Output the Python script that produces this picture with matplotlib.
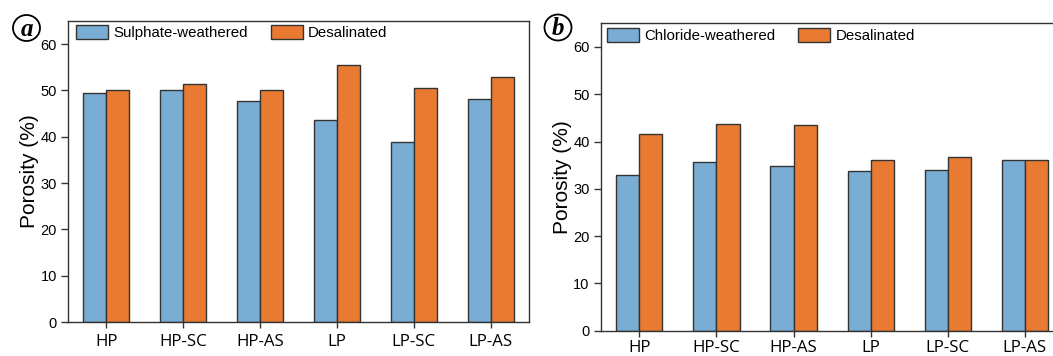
import matplotlib
matplotlib.use("Agg")
import matplotlib.pyplot as plt
from matplotlib.patches import Ellipse
import numpy as np

categories = ["HP", "HP-SC", "HP-AS", "LP", "LP-SC", "LP-AS"]

sulphate_weathered = [49.5, 50.0, 47.8, 43.6, 38.8, 48.2]
sulphate_desalinated = [50.2, 51.3, 50.2, 55.6, 50.5, 52.8]

chloride_weathered = [33.0, 35.7, 34.8, 33.8, 34.0, 36.0]
chloride_desalinated = [41.5, 43.8, 43.5, 36.1, 36.8, 36.2]

yticks = [0, 10, 20, 30, 40, 50, 60]

BLUE = "#7aadd3"
ORANGE = "#e87a31"
EDGE = "#333333"
W, H = 1053, 356

fig = plt.figure(figsize=(W / 100, H / 100), dpi=100)


def px_rect(left, right, top, bottom):
    return [left / W, (H - bottom) / H, (right - left) / W, (bottom - top) / H]


def draw_panel(ax, weathered, desalinated, wlabel, legend_anchor, xpad):
    x = np.arange(len(categories))
    bw = 0.3
    ax.bar(x - bw / 2, weathered, bw, color=BLUE, edgecolor=EDGE, linewidth=1,
           label=wlabel, zorder=2)
    ax.bar(x + bw / 2, desalinated, bw, color=ORANGE, edgecolor=EDGE, linewidth=1,
           label="Desalinated", zorder=2)
    ax.set_xlim(-0.5, 5.5)
    ax.set_ylim(0, 65)
    ax.set_yticks(yticks)
    ax.set_xticks(x)
    ax.set_xticklabels(categories, family="Open Sans", fontsize=12.2)
    for lab in ax.get_yticklabels():
        lab.set_family("Liberation Sans")
        lab.set_fontsize(10.5)
    ax.tick_params(axis="y", direction="out", length=5, width=1, color=EDGE, pad=3)
    ax.tick_params(axis="x", direction="out", length=4, width=1, color=EDGE, pad=xpad)
    for s in ax.spines.values():
        s.set_color(EDGE)
        s.set_linewidth(1)
    ax.set_ylabel("Porosity (%)", family="Liberation Sans", fontsize=15, labelpad=1)
    ax.legend(loc="upper left", bbox_to_anchor=legend_anchor, ncol=2, frameon=False,
              prop={"family": "Liberation Sans", "size": 10.8},
              handlelength=2.15, handleheight=1.05, handletextpad=0.35,
              columnspacing=1.5, borderpad=0, borderaxespad=0)


ax_a = fig.add_axes(px_rect(68, 529, 21, 322))
draw_panel(ax_a, sulphate_weathered, sulphate_desalinated, "Sulphate-weathered",
           (8 / 461, 1 - 4 / 301), 5)

ax_b = fig.add_axes(px_rect(600.7, 1063.5, 23.3, 330.7))
draw_panel(ax_b, chloride_weathered, chloride_desalinated, "Chloride-weathered",
           (6 / 462.8, 1 - 5 / 307.4), 3)

# circled panel letters
for letter, cx, cy in [("a", 26.5, 28), ("b", 558, 27.5)]:
    fig.patches.append(Ellipse((cx / W, 1 - cy / H), 27 / W, 26 / H,
                               transform=fig.transFigure, fill=False,
                               edgecolor="black", linewidth=1.3))
    fig.text(cx / W, 1 - (cy + 1) / H, letter, ha="center", va="center",
             family="Liberation Serif", style="italic", weight="bold",
             fontsize=18)

fig.savefig("out.png", dpi=100)
